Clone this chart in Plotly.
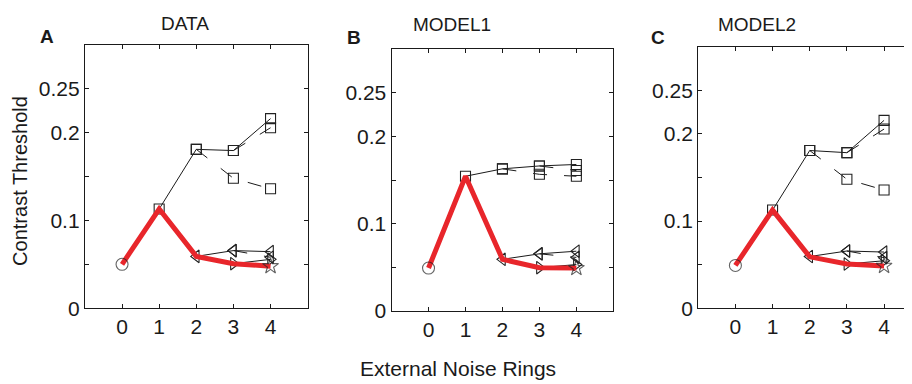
import plotly.graph_objects as go

W, H = 912, 384
OFF_X = 8  # horizontal page offset compensation (px)
OFF_Y = 0

# ---------------- data ----------------
x_ticks = [0, 1, 2, 3, 4]
y_tickvals = [0, 0.05, 0.1, 0.15, 0.2, 0.25]
y_ticktext = ["0", "", "0.1", "", "0.2", "0.25"]

panel_titles = ["DATA", "MODEL1", "MODEL2"]
panel_letters = ["A", "B", "C"]

x_red = [0, 1, 2, 3, 4]
x_sq_solid = [1, 2, 3, 4]
x_sq_dash_hi = [3, 4]
x_sq_dash_lo = [2, 3, 4]
x_tl_solid = [2, 3, 4]
x_tl_dash = [3, 4]
x_tr_solid = [3, 4]

A_red = [0.050, 0.113, 0.059, 0.0507, 0.0478]
A_sq_solid = [0.113, 0.181, 0.1796, 0.216]
A_sq_dash_hi = [0.1796, 0.2056]
A_sq_dash_lo = [0.181, 0.148, 0.136]
A_tl_solid = [0.059, 0.0656, 0.0644]
A_tl_dash = [0.0656, 0.058]
A_tr_solid = [0.0507, 0.0556]

B_red = [0.0493, 0.1545, 0.0593, 0.0497, 0.0493]
B_sq_solid = [0.1545, 0.163, 0.1663, 0.168]
B_sq_dash_hi = [0.1663, 0.161]
B_sq_dash_lo = [0.163, 0.1567, 0.1545]
B_tl_solid = [0.0593, 0.0656, 0.0686]
B_tl_dash = [0.0656, 0.0615]
B_tr_solid = [0.0497, 0.0533]

C_red = [0.049, 0.1126, 0.0589, 0.0507, 0.0485]
C_sq_solid = [0.1126, 0.181, 0.1785, 0.2156]
C_sq_dash_hi = [0.1785, 0.2056]
C_sq_dash_lo = [0.181, 0.148, 0.1356]
C_tl_solid = [0.0593, 0.0656, 0.0644]
C_tl_dash = [0.0656, 0.058]
C_tr_solid = [0.0507, 0.0544]

panels = [
    (A_red, A_sq_solid, A_sq_dash_hi, A_sq_dash_lo, A_tl_solid, A_tl_dash, A_tr_solid),
    (B_red, B_sq_solid, B_sq_dash_hi, B_sq_dash_lo, B_tl_solid, B_tl_dash, B_tr_solid),
    (C_red, C_sq_solid, C_sq_dash_hi, C_sq_dash_lo, C_tl_solid, C_tl_dash, C_tr_solid),
]

# ---------------- layout geometry (target page pixels) ----------------
x_dom_px = [(85, 308), (392, 614), (699, 920)]
y_dom_px = [(38, 309), (42.5, 312), (40, 309)]
x_ranges = [[-1, 5], [-1, 5], [-1, 4.94]]
title_pos = [(185, 16), (452, 17), (758, 17)]
letter_pos = [(47, 29), (354, 30), (659, 30)]

FONT = "Liberation Sans"
INK = "#1a1a1a"
RED = "#e8262b"
MK = "#222222"
DASH = "14px,17px"


def px(xp):
    return (xp - OFF_X) / W


def py(yp):
    return 1 - (yp - OFF_Y) / H


fig = go.Figure()


def ax_name(i, kind):
    return kind if i == 0 else f"{kind}{i + 1}"


for i, (red, sqs, sqh, sql, tls, tld, trs) in enumerate(panels):
    xa = "x" if i == 0 else f"x{i + 1}"
    ya = "y" if i == 0 else f"y{i + 1}"

    def add(xs, ys, dash, symbol):
        fig.add_trace(go.Scatter(
            x=xs, y=ys, xaxis=xa, yaxis=ya, mode="lines+markers",
            line=dict(color=INK, width=1, dash=dash),
            marker=dict(symbol=symbol, size=10 if "square" in symbol else 11,
                        color=MK, line=dict(width=1.1, color=MK)),
            showlegend=False, hoverinfo="skip"))

    add(x_sq_solid, sqs, "solid", "square-open")
    add(x_sq_dash_hi, sqh, DASH, "square-open")
    add(x_sq_dash_lo, sql, DASH, "square-open")
    add(x_tl_solid, tls, "solid", "triangle-left-open")
    add(x_tl_dash, tld, DASH, "triangle-left-open")
    add(x_tr_solid, trs, "solid", "triangle-right-open")

    fig.add_trace(go.Scatter(
        x=x_red, y=red, xaxis=xa, yaxis=ya, mode="lines",
        line=dict(color=RED, width=5), showlegend=False, hoverinfo="skip"))
    fig.add_trace(go.Scatter(
        x=[x_red[0], x_red[-1]], y=[red[0], red[-1]], xaxis=xa, yaxis=ya,
        mode="markers",
        marker=dict(symbol=["circle-open", "star-open"], size=[12, 12],
                    color=MK, line=dict(width=1.1, color=MK)),
        showlegend=False, hoverinfo="skip"))

    x0, x1 = x_dom_px[i]
    y0, y1 = y_dom_px[i]
    fig.layout[ax_name(i, "xaxis")] = dict(
        domain=[px(x0), min(1.0, px(x1))], range=x_ranges[i], anchor=ya,
        tickvals=x_ticks, ticktext=[str(t) for t in x_ticks],
        ticks="inside", ticklen=4, tickcolor=INK, showline=True, linecolor=INK,
        linewidth=1.2, mirror="ticks", showgrid=False, zeroline=False,
        tickfont=dict(family=FONT, size=21, color=INK))
    fig.layout[ax_name(i, "yaxis")] = dict(
        domain=[py(y1), py(y0)], range=[0, 0.3], anchor=xa,
        tickvals=y_tickvals, ticktext=y_ticktext,
        ticks="inside", ticklen=4, tickcolor=INK, showline=True, linecolor=INK,
        linewidth=1.2, mirror="ticks", showgrid=False,
        zeroline=False,
        tickfont=dict(family=FONT, size=21, color=INK))

annotations = []
for i in range(3):
    tx, ty = title_pos[i]
    annotations.append(dict(text=panel_titles[i], x=px(tx), y=py(ty),
                            xref="paper", yref="paper", showarrow=False,
                            xanchor="center", yanchor="middle",
                            font=dict(family=FONT, size=19, color=INK)))
    lx, ly = letter_pos[i]
    annotations.append(dict(text="<b>" + panel_letters[i] + "</b>", x=px(lx), y=py(ly),
                            xref="paper", yref="paper", showarrow=False,
                            xanchor="center", yanchor="middle",
                            font=dict(family=FONT, size=19, color=INK)))

annotations.append(dict(text="Contrast Threshold", x=px(20), y=py(178),
                        xref="paper", yref="paper", showarrow=False, textangle=-90,
                        xanchor="center", yanchor="middle",
                        font=dict(family=FONT, size=20, color=INK)))
annotations.append(dict(text="External Noise Rings", x=px(458), y=py(371),
                        xref="paper", yref="paper", showarrow=False,
                        xanchor="center", yanchor="middle",
                        font=dict(family=FONT, size=21, color=INK)))

fig.update_layout(
    width=W, height=H, margin=dict(l=0, r=0, t=0, b=0),
    paper_bgcolor="white", plot_bgcolor="white",
    annotations=annotations, showlegend=False)

fig.write_html("out.html")
